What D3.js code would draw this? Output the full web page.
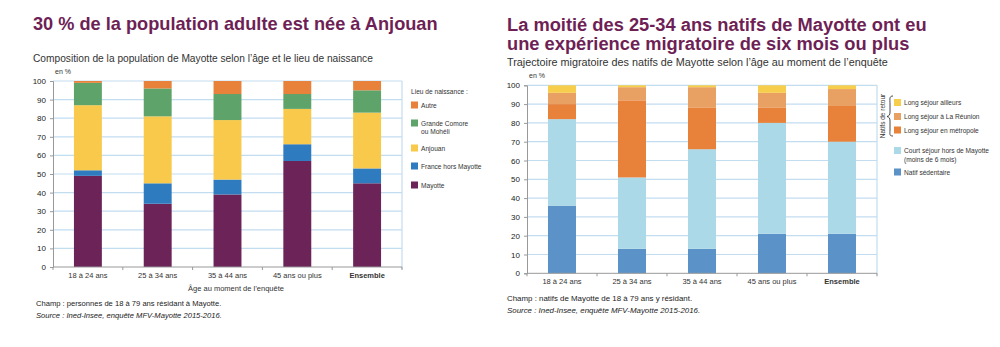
<!DOCTYPE html>
<html>
<head>
<meta charset="utf-8">
<script src="https://cdn.jsdelivr.net/npm/d3@7"></script>
<style>
  body { margin: 0; background: #fff; }
  svg text { font-family: "Liberation Sans", Arial, sans-serif; }
</style>
</head>
<body>
<svg id="chart" width="1000" height="347"></svg>
<script>
// age groups (shared by both charts)
var ages = ["18 à 24 ans", "25 à 34 ans", "35 à 44 ans", "45 ans ou plus", "Ensemble"];
var yTicks = [0, 10, 20, 30, 40, 50, 60, 70, 80, 90, 100];

// left chart: place of birth, stacked bottom -> top
var birthKeys = ["Mayotte", "France hors Mayotte", "Anjouan", "Grande Comore ou Mohéli", "Autre"];
var mayotte   = [49, 34, 39, 57, 45];
var franceHM  = [3, 11, 8, 9, 8];
var anjouan   = [35, 36, 32, 19, 30];
var comore    = [12, 15, 14, 8, 12];
var autre     = [1, 4, 7, 7, 5];
var birthColors = ["#6b2358", "#2f7bc0", "#f8c94b", "#5ea36a", "#e8813a"];

// right chart: migration path, stacked bottom -> top
var pathKeys = ["Natif sédentaire", "Court séjour", "Long séjour en métropole", "Long séjour à La Réunion", "Long séjour ailleurs"];
var sedentaire = [36, 13, 13, 21, 21];
var courtSejour = [46, 38, 53, 59, 49];
var metropole  = [8, 41, 22, 8, 19];
var reunion    = [6, 7, 11, 8, 9];
var ailleurs   = [4, 1, 1, 4, 2];
var pathColors = ["#5b93c8", "#acd9e7", "#e8813a", "#e9a063", "#f7cd4c"];

var svg = d3.select("#chart");
var titleColor = "#6e1f55";
var gridColor = "#c3ddf0";

function drawChart(opt) {
  var g = svg.append("g");
  var rows = ages.map(function(a, i) {
    var r = {age: a};
    opt.keys.forEach(function(k, j) { r[k] = opt.series[j][i]; });
    return r;
  });
  var stack = d3.stack().keys(opt.keys)(rows);

  var x = d3.scaleBand().domain(ages).range([opt.left, opt.right]).paddingInner(0.6).paddingOuter(0.3);
  var y = d3.scaleLinear().domain([0, 100]).range([opt.bottom, opt.top]);

  // gridlines
  g.selectAll(".grid").data(yTicks.slice(1)).enter().append("line")
    .attr("x1", opt.left).attr("x2", opt.right)
    .attr("y1", function(d) { return y(d); }).attr("y2", function(d) { return y(d); })
    .attr("stroke", gridColor).attr("stroke-width", 1.2);
  g.append("line")
    .attr("x1", opt.right).attr("x2", opt.right)
    .attr("y1", opt.top).attr("y2", opt.bottom + 2)
    .attr("stroke", gridColor).attr("stroke-width", 1.2);

  // bars
  g.selectAll(".layer").data(stack).enter().append("g")
    .attr("fill", function(d, i) { return opt.colors[i]; })
    .selectAll("rect").data(function(d) { return d; }).enter().append("rect")
    .attr("x", function(d) { return x(d.data.age); })
    .attr("width", x.bandwidth())
    .attr("y", function(d) { return y(d[1]); })
    .attr("height", function(d) { return y(d[0]) - y(d[1]); });

  // y axis
  var ya = g.append("g").attr("transform", "translate(" + opt.left + ",0)")
    .call(d3.axisLeft(y).tickValues(yTicks).tickSize(3).tickPadding(4));
  ya.select(".domain").attr("stroke", "#999");
  ya.selectAll(".tick line").attr("stroke", "#999");
  ya.selectAll("text").attr("font-size", 8).attr("fill", "#222");

  // x axis with ticks between bands
  var xa = g.append("g").attr("transform", "translate(0," + opt.bottom + ")");
  xa.append("line").attr("x1", opt.left).attr("x2", opt.right)
    .attr("stroke", "#999");
  xa.selectAll(".sep").data(d3.range(ages.length + 1)).enter().append("line")
    .attr("x1", function(i) { return opt.left + i * (opt.right - opt.left) / ages.length; })
    .attr("x2", function(i) { return opt.left + i * (opt.right - opt.left) / ages.length; })
    .attr("y1", 0).attr("y2", 3).attr("stroke", "#999");
  xa.selectAll(".lab").data(ages).enter().append("text")
    .attr("x", function(d) { return x(d) + x.bandwidth() / 2; })
    .attr("y", 11)
    .attr("text-anchor", "middle")
    .attr("font-size", 7.5)
    .attr("font-weight", function(d) { return d == "Ensemble" ? "bold" : "normal"; })
    .attr("fill", "#333")
    .text(function(d) { return d; });

  g.append("text").attr("x", opt.left + 2).attr("y", opt.top - 7)
    .attr("font-size", 7).attr("fill", "#333").text("en %");
  return g;
}

// ---- left chart ----
svg.append("text").attr("x", 33).attr("y", 30)
  .attr("font-size", 18.2).attr("font-weight", "bold").attr("fill", titleColor)
  .text("30 % de la population adulte est née à Anjouan");
svg.append("text").attr("x", 33).attr("y", 62)
  .attr("font-size", 10.2).attr("fill", "#333")
  .text("Composition de la population de Mayotte selon l’âge et le lieu de naissance");

drawChart({
  keys: birthKeys,
  series: [mayotte, franceHM, anjouan, comore, autre],
  colors: birthColors,
  left: 53, right: 402, top: 81, bottom: 267
});

svg.append("text").attr("x", 236).attr("y", 291).attr("text-anchor", "middle")
  .attr("font-size", 7.5).attr("fill", "#333").text("Âge au moment de l’enquête");
svg.append("text").attr("x", 36).attr("y", 306)
  .attr("font-size", 7.6).attr("fill", "#222")
  .text("Champ : personnes de 18 à 79 ans résidant à Mayotte.");
svg.append("text").attr("x", 36).attr("y", 318)
  .attr("font-size", 7.6).attr("font-style", "italic").attr("fill", "#222")
  .text("Source : Ined-Insee, enquête MFV-Mayotte 2015-2016.");

// left legend (top -> bottom)
var lLeg = svg.append("g");
lLeg.append("text").attr("x", 411).attr("y", 94).attr("font-size", 6.6).attr("fill", "#333")
  .text("Lieu de naissance :");
var lItems = [
  {i: 4, y: 105, lines: ["Autre"]},
  {i: 3, y: 123, lines: ["Grande Comore", "ou Mohéli"]},
  {i: 2, y: 148, lines: ["Anjouan"]},
  {i: 1, y: 166, lines: ["France hors Mayotte"]},
  {i: 0, y: 185, lines: ["Mayotte"]}
];
lItems.forEach(function(it) {
  lLeg.append("rect").attr("x", 411).attr("y", it.y - 3.5).attr("width", 7).attr("height", 7)
    .attr("fill", birthColors[it.i]);
  it.lines.forEach(function(t, k) {
    lLeg.append("text").attr("x", 421).attr("y", it.y + 2.5 + k * 8.5)
      .attr("font-size", 6.6).attr("fill", "#333").text(t);
  });
});

// ---- right chart ----
svg.append("text").attr("x", 507).attr("y", 31)
  .attr("font-size", 18.3).attr("font-weight", "bold").attr("fill", titleColor)
  .text("La moitié des 25-34 ans natifs de Mayotte ont eu");
svg.append("text").attr("x", 507).attr("y", 50)
  .attr("font-size", 18.3).attr("font-weight", "bold").attr("fill", titleColor)
  .text("une expérience migratoire de six mois ou plus");
svg.append("text").attr("x", 507).attr("y", 66)
  .attr("font-size", 10.8).attr("fill", "#333")
  .text("Trajectoire migratoire des natifs de Mayotte selon l’âge au moment de l’enquête");

drawChart({
  keys: pathKeys,
  series: [sedentaire, courtSejour, metropole, reunion, ailleurs],
  colors: pathColors,
  left: 527, right: 877, top: 85.3, bottom: 273.3
});

svg.append("text").attr("x", 507).attr("y", 301)
  .attr("font-size", 7.9).attr("fill", "#222")
  .text("Champ : natifs de Mayotte de 18 à 79 ans y résidant.");
svg.append("text").attr("x", 507).attr("y", 313)
  .attr("font-size", 7.9).attr("font-style", "italic").attr("fill", "#222")
  .text("Source : Ined-Insee, enquête MFV-Mayotte 2015-2016.");

// right legend
var rLeg = svg.append("g");
var rItems = [
  {i: 4, y: 102.5, lines: ["Long séjour ailleurs"]},
  {i: 3, y: 116.5, lines: ["Long séjour à La Réunion"]},
  {i: 2, y: 130, lines: ["Long séjour en métropole"]},
  {i: 1, y: 150.5, lines: ["Court séjour hors de Mayotte", "(moins de 6 mois)"]},
  {i: 0, y: 172, lines: ["Natif sédentaire"]}
];
rItems.forEach(function(it) {
  rLeg.append("rect").attr("x", 894).attr("y", it.y - 3.5).attr("width", 7).attr("height", 7)
    .attr("fill", pathColors[it.i]);
  it.lines.forEach(function(t, k) {
    rLeg.append("text").attr("x", 904).attr("y", it.y + 2.5 + k * 8.5)
      .attr("font-size", 6.6).attr("fill", "#333").text(t);
  });
});
// brace grouping the returning natives
rLeg.append("path")
  .attr("d", "M893,96 C889,96 890,99 890,104 L890,112 C890,115 889,116 887,116.5 C889,117 890,118 890,121 L890,130 C890,134 889,136 893,136")
  .attr("fill", "none").attr("stroke", "#333").attr("stroke-width", 0.9);
rLeg.append("text")
  .attr("transform", "translate(885,116) rotate(-90)")
  .attr("text-anchor", "middle")
  .attr("font-size", 6.5).attr("fill", "#333")
  .text("Natifs de retour");
</script>
</body>
</html>
